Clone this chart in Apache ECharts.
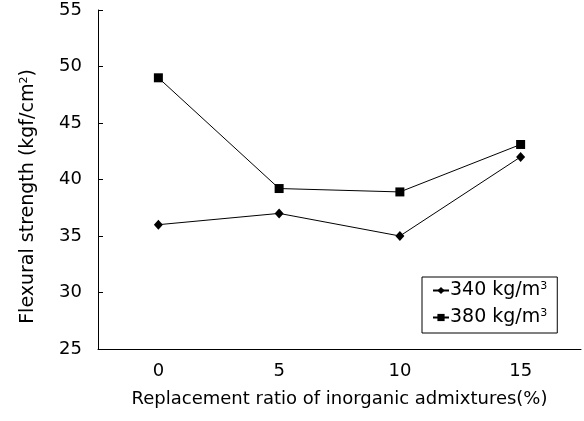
<!DOCTYPE html>
<html lang="en">
<head>
    <meta charset="UTF-8">
    <title>Flexural strength</title>
    <script src="https://cdn.jsdelivr.net/npm/echarts@6/dist/echarts.min.js"></script>
    <style>
        body { margin: 0; padding: 0; background: #fff; }
    </style>
</head>
<body>
    <div id="chart" style="width: 584px; height: 421px;"></div>
    <script>
        var ratios = ["0", "5", "10", "15"];
        var s340 = [36.0, 37.0, 35.0, 42.0];
        var s380 = [49.0, 39.2, 38.9, 43.1];

        var font = "DejaVu Sans";
        var chart = echarts.init(document.getElementById("chart"));
        var supRich = {
            sup: { fontSize: 11, verticalAlign: "top", padding: [0, 0, 8, 0], fontFamily: font, color: "#000" }
        };

        var option = {
            animation: false,
            grid: { left: 98, right: 3, top: 10, bottom: 72 },
            legend: {
                left: 422,
                top: 277,
                orient: "vertical",
                borderColor: "#000",
                borderWidth: 1,
                padding: [4, 10, 6, 10],
                itemGap: 8,
                itemWidth: 16,
                itemHeight: 9,
                textStyle: { fontSize: 19, color: "#000", fontFamily: font, padding: [0, 0, 0, -4], rich: supRich },
                formatter: function (name) { return name.replace("m3", "m{sup|3}"); },
                data: ["340 kg/m3", "380 kg/m3"]
            },
            xAxis: {
                type: "category",
                data: ratios,
                name: "Replacement ratio of inorganic admixtures(%)",
                nameLocation: "middle",
                nameGap: 41,
                nameTextStyle: { fontSize: 18, color: "#000", fontFamily: font },
                axisLine: { lineStyle: { color: "#000", width: 1 } },
                axisTick: { inside: true, length: 5, lineStyle: { color: "#000" } },
                axisLabel: { fontSize: 18, color: "#000", fontFamily: font, margin: 13 }
            },
            yAxis: {
                type: "value",
                min: 25,
                max: 55,
                interval: 5,
                name: "Flexural strength (kgf/cm{sup|2})",
                nameLocation: "middle",
                nameGap: 60,
                nameRotate: 90,
                nameTextStyle: { fontSize: 19, color: "#000", fontFamily: font, padding: [0, 34, 0, 0], rich: supRich },
                splitLine: { show: false },
                axisLine: { show: true, lineStyle: { color: "#000", width: 1 } },
                axisTick: { show: true, inside: true, length: 5, lineStyle: { color: "#000" } },
                axisLabel: { fontSize: 18, color: "#000", fontFamily: font, margin: 16 }
            },
            series: [
                {
                    name: "340 kg/m3",
                    type: "line",
                    data: s340,
                    symbol: "diamond",
                    symbolSize: [9, 10],
                    lineStyle: { color: "#000", width: 1 },
                    itemStyle: { color: "#000" }
                },
                {
                    name: "380 kg/m3",
                    type: "line",
                    data: s380,
                    symbol: "rect",
                    symbolSize: 9,
                    lineStyle: { color: "#000", width: 1 },
                    itemStyle: { color: "#000" }
                }
            ]
        };
        chart.setOption(option);
    </script>
</body>
</html>
